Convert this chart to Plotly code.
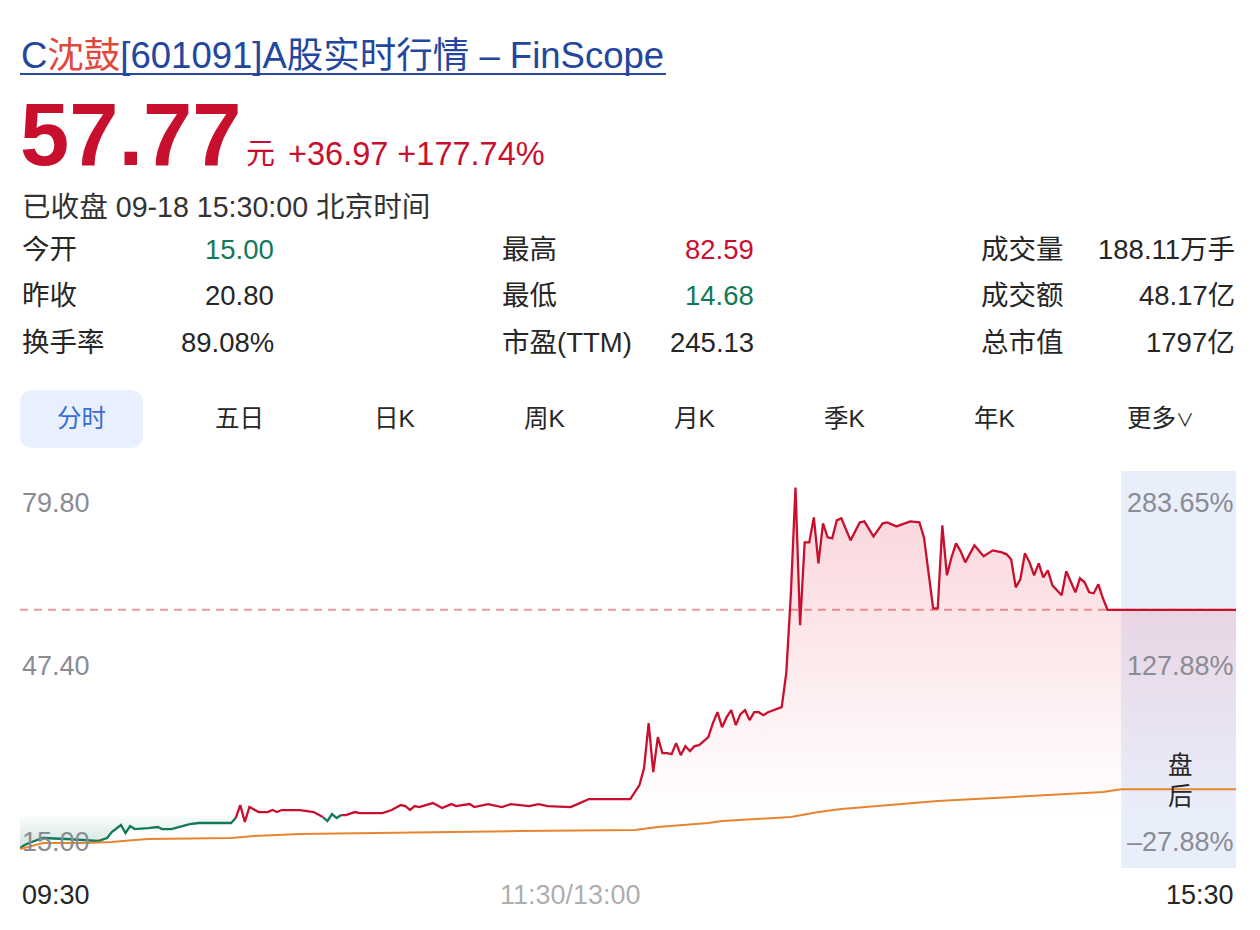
import plotly.graph_objects as go

# ---------------- data ----------------
PREV_CLOSE = 20.80
LAST_PRICE = 57.77

# minute offsets from 09:30 (0-120 morning, 120-240 afternoon, 240-265 after-hours)
minutes = [0, 1, 2, 4, 5, 10, 14, 17, 19, 20, 22, 23, 24, 25, 28, 30, 31, 33, 37, 39,
           46, 47, 48, 49, 50, 52, 54, 55, 56, 57, 61, 64, 66, 67, 68, 69, 70, 71, 73, 74,
           79, 81, 83, 84, 85, 86, 87, 90, 92, 94, 95, 98, 99, 102, 105, 107, 111, 113, 115, 120,
           122, 124, 133, 135, 136, 137, 138, 139, 140, 141, 142, 143, 144, 145, 146, 147, 148, 150, 151, 152,
           153, 154, 155, 156, 157, 158, 159, 160, 161, 162, 163, 166, 167, 168, 169, 170, 171, 172, 173, 174,
           175, 176, 177, 178, 179, 181, 183, 184, 186, 188, 189, 191, 194, 196, 197, 198, 199, 200, 201, 202,
           203, 204, 205, 206, 208, 210, 212, 214, 215, 216, 217, 218, 219, 220, 221, 222, 223, 224, 225, 227,
           228, 230, 231, 232, 233, 234, 235, 236, 237, 240, 265]
prices = [15.00, 15.57, 15.92, 16.46, 16.82, 16.64, 16.46, 16.28, 16.82, 17.90, 19.15, 17.72, 18.97, 18.43, 18.61, 18.79, 18.43, 18.43, 19.33, 19.51,
          19.51, 20.40, 22.73, 19.69, 22.38, 21.48, 21.48, 21.84, 21.48, 21.84, 21.84, 21.48, 20.58, 19.87, 21.12, 20.40, 20.94, 20.94, 21.48, 21.30,
          21.30, 21.84, 22.73, 22.55, 21.84, 22.55, 22.38, 23.09, 22.20, 22.91, 22.55, 22.91, 22.38, 22.91, 22.38, 22.91, 22.55, 22.91, 22.55, 22.38,
          23.09, 23.81, 23.81, 26.32, 29.36, 37.43, 28.65, 34.92, 32.05, 32.05, 31.87, 33.84, 31.69, 33.30, 32.41, 33.30, 33.48, 34.92, 37.43, 39.40,
          36.71, 38.50, 39.76, 37.07, 39.04, 39.76, 37.97, 39.40, 39.40, 38.86, 39.40, 40.30, 46.50, 60.73, 79.72, 54.99, 69.87, 69.87, 74.35, 66.10,
          73.27, 70.76, 70.58, 73.81, 74.17, 70.22, 73.45, 73.63, 70.94, 73.27, 73.45, 72.73, 73.63, 73.45, 70.76, 64.85, 58.04, 58.04, 72.91, 63.96,
          67.18, 69.69, 68.25, 66.28, 69.33, 67.36, 68.43, 68.07, 67.72, 66.82, 61.80, 63.24, 67.90, 66.28, 63.96, 66.10, 63.60, 64.85, 62.16, 60.37,
          64.67, 60.91, 63.42, 62.70, 60.91, 60.73, 62.34, 59.83, 57.77, 57.77, 57.77]

avg_minutes = [0, 5, 14, 20, 25, 28, 46, 51, 61, 87, 109, 134, 139, 150, 153, 168, 174, 179, 200, 236, 240, 265]
avg_prices = [14.85, 15.92, 15.92, 16.10, 16.46, 16.64, 16.82, 17.18, 17.54, 17.90, 18.07, 18.25, 18.79, 19.51, 19.87, 20.58, 21.48, 22.02, 23.45, 25.07, 25.55, 25.55]

price_ticks = ["79.80", "47.40", "15.00"]
price_tick_vals = [79.80, 47.40, 15.00]
pct_ticks = ["283.65%", "127.88%", "–27.88%"]
time_labels = ["09:30", "11:30/13:00", "15:30"]
time_label_vals = [0, 120, 265]

stats_rows = [
    [("今开", "15.00", "green"), ("最高", "82.59", "red"), ("成交量", "188.11万手", "dark")],
    [("昨收", "20.80", "dark"), ("最低", "14.68", "green"), ("成交额", "48.17亿", "dark")],
    [("换手率", "89.08%", "dark"), ("市盈(TTM)", "245.13", "dark"), ("总市值", "1797亿", "dark")],
]
tabs = ["分时", "五日", "日K", "周K", "月K", "季K", "年K", "更多<span style='font-size:18px'>∨</span>"]

# ---------------- layout geometry ----------------
W, H = 1260, 930
ML, MR, MT, MB = 20, 24, 471, 62
PW = W - ML - MR
PH = H - MT - MB
Y_RANGE = [11.44, 82.67]
X_RANGE = [0, 265]


def fx(px):
    return (px - ML) / PW


def fy(py):
    return (H - MB - py) / PH


RED = "#c8102e"
GREEN = "#10795a"
DARK = "#262626"
GRAY = "#8a8b93"
ORANGE = "#e8842f"
FONT = "Liberation Sans, Noto Sans CJK SC, sans-serif"
COLORS = {"red": RED, "green": GREEN, "dark": DARK}

fig = go.Figure()

# baseline (prev close) for fill
fig.add_trace(go.Scatter(x=[X_RANGE[0], X_RANGE[1]], y=[PREV_CLOSE, PREV_CLOSE], mode="lines",
                         line=dict(width=0, color="rgba(0,0,0,0)"), hoverinfo="skip", showlegend=False))
fig.add_trace(go.Scatter(
    x=minutes, y=prices, mode="lines", line=dict(width=0, color="rgba(0,0,0,0)"),
    fill="tonexty",
    fillgradient=dict(type="vertical", start=14.68, stop=82.59,
                      colorscale=[[0.0, "rgba(10,110,85,0.2)"],
                                  [0.09, "rgba(10,110,85,0.02)"],
                                  [0.0901, "rgba(228,40,70,0.0)"],
                                  [1.0, "rgba(228,40,70,0.21)"]]),
    hoverinfo="skip", showlegend=False))


# split price line into red / green runs relative to prev close
def split_runs(xs, ys, ref):
    runs = []
    cur_color, cx, cy = None, [], []
    for i in range(len(xs) - 1):
        col = "red" if (ys[i] + ys[i + 1]) / 2 >= ref else "green"
        if col != cur_color:
            if cur_color is not None:
                runs.append((cur_color, cx, cy))
            cur_color, cx, cy = col, [xs[i]], [ys[i]]
        cx.append(xs[i + 1])
        cy.append(ys[i + 1])
    runs.append((cur_color, cx, cy))
    return runs


for col, rx, ry in split_runs(minutes, prices, PREV_CLOSE):
    fig.add_trace(go.Scatter(x=rx, y=ry, mode="lines",
                             line=dict(width=2.3, color=COLORS[col]),
                             hoverinfo="skip", showlegend=False))

fig.add_trace(go.Scatter(x=avg_minutes, y=avg_prices, mode="lines",
                         line=dict(width=2, color=ORANGE), hoverinfo="skip", showlegend=False))

shapes = []
# after-hours band
shapes.append(dict(type="rect", xref="x", yref="paper", x0=240, x1=265, y0=0, y1=1,
                   fillcolor="#e9eefb", line=dict(width=0), layer="below"))
# last price dashed line
shapes.append(dict(type="line", xref="paper", yref="y", x0=0, x1=1, y0=LAST_PRICE, y1=LAST_PRICE,
                   line=dict(color="#ea9a9d", width=2, dash="8px,6px"), layer="below"))
# title underline
shapes.append(dict(type="line", xref="paper", yref="paper", x0=fx(20), x1=fx(666), y0=fy(74), y1=fy(74),
                   line=dict(color="#2b4a9c", width=2)))

# active tab rounded rect
x0, x1, y0, y1, r = 20, 143, 390, 448, 14
rx_, ry_ = r / PW, r / PH
X0, X1, Y0, Y1 = fx(x0), fx(x1), fy(y1), fy(y0)
path = (f"M {X0 + rx_},{Y0} L {X1 - rx_},{Y0} Q {X1},{Y0} {X1},{Y0 + ry_} "
        f"L {X1},{Y1 - ry_} Q {X1},{Y1} {X1 - rx_},{Y1} L {X0 + rx_},{Y1} "
        f"Q {X0},{Y1} {X0},{Y1 - ry_} L {X0},{Y0 + ry_} Q {X0},{Y0} {X0 + rx_},{Y0} Z")
shapes.append(dict(type="path", xref="paper", yref="paper", path=path,
                   fillcolor="#e7f0fc", line=dict(width=0), layer="below"))

ann = []


def text(px, py, s, size, color=DARK, xanchor="left", weight="normal"):
    ann.append(dict(x=fx(px), y=fy(py), xref="paper", yref="paper", text=s, showarrow=False,
                    xanchor=xanchor, yanchor="middle",
                    font=dict(family=FONT, size=size, color=color, weight=weight)))


# header
text(19, 55, "C<span style='color:#e0493c'>沈鼓</span>[601091]A股实时行情 – FinScope", 36.5, "#23479e")
text(18, 134, "57.77", 88.5, RED, weight="bold")
text(244, 154, "元", 29, RED)
text(286, 154, "+36.97 +177.74%", 32.5, RED)
text(20, 207, "已收盘 09-18 15:30:00 北京时间", 28.6, "#333333")

# stats table
row_y = [249, 295, 342]
col_label_x = [20, 500, 979]
col_value_x = [276, 756, 1237]
for ri, row in enumerate(stats_rows):
    for ci, (lab, val, col) in enumerate(row):
        text(col_label_x[ci], row_y[ri], lab, 27.5, DARK)
        text(col_value_x[ci], row_y[ri], val, 27.5, COLORS[col], xanchor="right")

# tabs
tab_x = [81, 239, 395, 545, 695, 845, 995, 1160]
for i, t in enumerate(tabs):
    text(tab_x[i], 419, t, 24.5, "#3a6bd6" if i == 0 else DARK, xanchor="center")

# price axis labels (left) and percent labels (right)
shift = [-16, 2, 6]
for v, lab, pct, s in zip(price_tick_vals, price_ticks, pct_ticks, shift):
    ann.append(dict(x=0, y=v, xref="paper", yref="y", text=lab, showarrow=False, xanchor="left",
                    yanchor="middle", yshift=s, font=dict(family=FONT, size=27, color=GRAY)))
    ann.append(dict(x=1, y=v, xref="paper", yref="y", text=pct, showarrow=False, xanchor="right",
                    yanchor="middle", yshift=s, font=dict(family=FONT, size=27, color=GRAY)))

# after-hours label
text(1180, 765, "盘", 24.5, DARK, xanchor="center")
text(1180, 796, "后", 24.5, DARK, xanchor="center")

# time labels
for v, lab in zip(time_label_vals, time_labels):
    anchor = "left" if v == 0 else ("right" if v == 265 else "center")
    color = "rgba(40,40,40,0.4)" if v == 120 else DARK
    ann.append(dict(x=v, y=fy(895), xref="x", yref="paper", text=lab, showarrow=False,
                    xanchor=anchor, yanchor="middle", font=dict(family=FONT, size=27, color=color)))

fig.update_layout(
    width=W, height=H, margin=dict(l=ML, r=MR, t=MT, b=MB, pad=0),
    paper_bgcolor="white", plot_bgcolor="rgba(0,0,0,0)",
    xaxis=dict(range=X_RANGE, visible=False, fixedrange=True),
    yaxis=dict(range=Y_RANGE, visible=False, fixedrange=True),
    shapes=shapes, annotations=ann, showlegend=False,
)

fig.write_html("out.html", config={"displayModeBar": False},
               post_script="document.body.style.margin='0';")
